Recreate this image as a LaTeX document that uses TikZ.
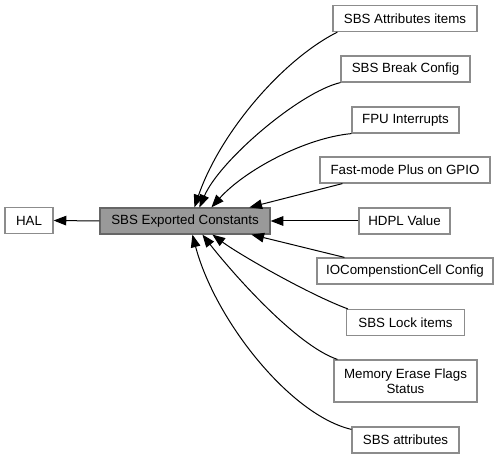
\documentclass[tikz,border=0pt]{standalone}
\usepackage{fontspec}
\setmainfont{Liberation Sans}
\usetikzlibrary{arrows.meta,calc}
\definecolor{boxborder}{HTML}{8C8C8C}
\definecolor{mainfill}{HTML}{999999}
\definecolor{mainborder}{HTML}{666666}
\begin{document}
\begin{tikzpicture}[x=0.75pt,y=-0.75pt,
  box/.style={draw=boxborder,line width=0.9pt,fill=white,inner sep=0pt,
    minimum height=19.5pt,font=\fontsize{10}{11.5}\selectfont,align=center},
  mainbox/.style={box,draw=mainborder,fill=mainfill},
  arr/.style={line width=0.75pt,-{Triangle[length=9.5pt,width=7.2pt]}}]
\useasboundingbox (0,0) rectangle (500,459);
\node[box,minimum width=36pt] (hal) at (29,220.5) {HAL};
\node[mainbox,minimum width=127.5pt] (main) at (185,221) {SBS Exported Constants};
\node[box,minimum width=108pt] (attritems) at (405,18.5) {SBS Attributes items};
\node[box,minimum width=96.75pt] (brk) at (405.5,69) {SBS Break Config};
\node[box,minimum width=80.25pt] (fpu) at (405.5,120) {FPU Interrupts};
\node[box,minimum width=127.5pt] (fast) at (405,170) {Fast-mode Plus on GPIO};
\node[box,minimum width=68.25pt] (hdpl) at (404.5,221) {HDPL Value};
\node[box,minimum width=132pt] (io) at (405,271) {IOCompenstionCell Config};
\node[box,minimum width=88.5pt] (lock) at (405.5,322.5) {SBS Lock items};
\node[box,minimum width=107.25pt,minimum height=31.5pt] (mem) at (405.5,381) {Memory Erase Flags\\Status};
\node[box,minimum width=80.25pt] (attrs) at (405.5,440) {SBS attributes};

\draw[arr] (main.west) -- (hal.east);
\draw[arr] ($(attritems.south west)+(5,0)$) .. controls (282,60) and (220,133) .. ($(main.north west)+(95,0)$);
\draw[arr] (brk.south west) .. controls (300,92) and (220,160) .. ($(main.north west)+(100,0)$);
\draw[arr] (fpu.south west) .. controls (305,138) and (245,170) .. ($(main.north west)+(112,0)$);
\draw[arr] ($(fast.south west)+(23,0)$) -- ($(main.north west)+(150,0)$);
\draw[arr] (hdpl.west) -- (main.east);
\draw[arr] ($(io.north west)+(28,0)$) -- ($(main.south west)+(152,0)$);
\draw[arr] ($(lock.north west)+(2,0)$) .. controls (310,295) and (240,255) .. ($(main.south west)+(113,0)$);
\draw[arr] ($(mem.north west)+(4,0)$) .. controls (295,345) and (230,270) .. ($(main.south west)+(103,0)$);
\draw[arr] ($(attrs.north west)+(0,3)$) .. controls (290,415) and (215,320) .. ($(main.south west)+(93,0)$);
\end{tikzpicture}
\end{document}
